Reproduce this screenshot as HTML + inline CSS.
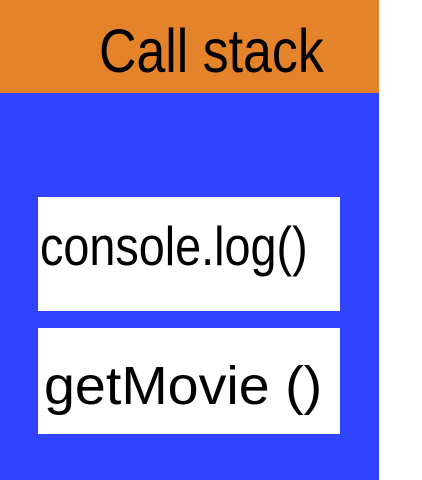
<!DOCTYPE html>
<html><head><style>
body{margin:0;width:422px;height:480px;background:#fff;position:relative;overflow:hidden;font-family:"Liberation Sans",sans-serif;}
.d{position:absolute;}
.t{position:absolute;white-space:nowrap;transform-origin:0 0;color:#000;line-height:1;}
</style></head><body>
<div class="d" style="left:0;top:0;width:379px;height:93px;background:#E5832A"></div>
<div class="d" style="left:0;top:93px;width:379px;height:387px;background:#3043FF"></div>
<div class="d" style="left:38px;top:197px;width:302px;height:114px;background:#fff"></div>
<div class="d" style="left:38px;top:328px;width:302px;height:106px;background:#fff"></div>
<div class="t" style="left:99px;top:21px;font-size:61px;transform:scaleX(0.85)">Call stack</div>
<div class="t" style="left:40px;top:219px;font-size:55px;transform:scaleX(0.85)">console.log()</div>
<div class="t" style="left:44px;top:359px;font-size:54px;transform:scaleX(1.03)">getMovie ()</div>
</body></html>
